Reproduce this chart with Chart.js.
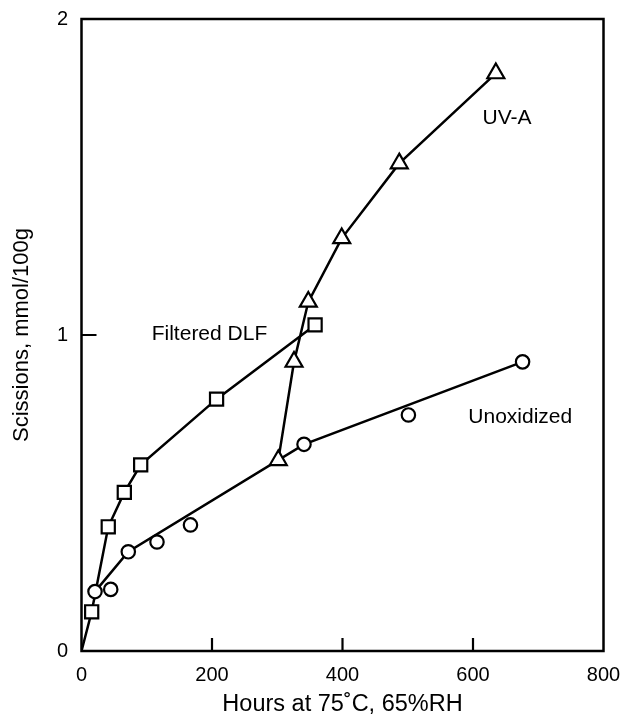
<!DOCTYPE html>
<html>
<head>
<meta charset="utf-8">
<script src="https://cdn.jsdelivr.net/npm/chart.js@4.4.1/dist/chart.umd.min.js"></script>
<style>
  html, body { margin: 0; padding: 0; background: #ffffff; }
  #wrap { width: 623px; height: 721px; }
</style>
</head>
<body>
<div id="wrap"><canvas id="chart" width="623" height="721"></canvas></div>
<script>
// Filtered DLF exposure (squares); the series starts at the origin
const hoursFiltered     = [0, 15.6, 41.0, 65.6, 90.7, 207, 358];
const scissionsFiltered = [0, 0.124, 0.393, 0.502, 0.589, 0.797, 1.032];

// Unoxidized samples (circles)
const hoursUnox     = [20.7, 44.8, 71.7, 115.7, 167, 341, 501, 676];
const scissionsUnox = [0.188, 0.195, 0.314, 0.345, 0.399, 0.654, 0.747, 0.915];

// Hand-drawn trend through the unoxidized data
const hoursUnoxTrend     = [20.7, 71.7, 341, 676];
const scissionsUnoxTrend = [0.188, 0.314, 0.654, 0.915];

// UV-A exposure (triangles)
const hoursUVA     = [301.6, 325.7, 347.6, 398.8, 487, 635];
const scissionsUVA = [0.604, 0.915, 1.105, 1.306, 1.543, 1.828];

// Axis ticks
const xTickValues = [0, 200, 400, 600, 800];
const yTickValues = [0, 1, 2];

// Curve labels, anchored at their left edge / vertical middle
const curveLabels = [
  { text: 'Filtered DLF', hours: 107.6, scissions: 1.003 },
  { text: 'UV-A',         hours: 614.6, scissions: 1.687 },
  { text: 'Unoxidized',   hours: 592.8, scissions: 0.741 }
];

const FONT = '"Liberation Sans", Arial, Helvetica, sans-serif';
const INK = '#000000';

const toPoints = (xs, ys) => xs.map((x, i) => ({ x: x, y: ys[i] }));

// Box around the plot plus inward-pointing tick marks and curve names
const framePlugin = {
  id: 'frame',
  afterDatasetsDraw(chart) {
    const { ctx, chartArea: a, scales } = chart;
    ctx.save();
    ctx.strokeStyle = INK;
    ctx.lineWidth = 2.5;
    ctx.lineCap = 'butt';
    ctx.strokeRect(a.left, a.top, a.right - a.left, a.bottom - a.top);
    ctx.lineWidth = 2.2;
    ctx.beginPath();
    xTickValues.slice(1, -1).forEach(v => {
      const px = scales.x.getPixelForValue(v);
      ctx.moveTo(px, a.bottom);
      ctx.lineTo(px, a.bottom - 13);
    });
    yTickValues.slice(1, -1).forEach(v => {
      const py = scales.y.getPixelForValue(v);
      ctx.moveTo(a.left, py);
      ctx.lineTo(a.left + 15, py);
    });
    ctx.stroke();

    ctx.fillStyle = INK;
    ctx.font = '21px ' + FONT;
    ctx.textAlign = 'left';
    ctx.textBaseline = 'middle';
    curveLabels.forEach(l => {
      ctx.fillText(l.text, scales.x.getPixelForValue(l.hours), scales.y.getPixelForValue(l.scissions));
    });
    ctx.restore();
  }
};

const markerBase = {
  borderColor: INK,
  backgroundColor: '#ffffff',
  pointBorderColor: INK,
  pointBackgroundColor: '#ffffff',
  pointBorderWidth: 2.2,
  borderWidth: 2.5,
  tension: 0
};

new Chart(document.getElementById('chart'), {
  type: 'scatter',
  data: {
    datasets: [
      Object.assign({}, markerBase, {
        label: 'Filtered DLF',
        data: toPoints(hoursFiltered, scissionsFiltered),
        showLine: true,
        pointStyle: 'rect',
        pointRadius: ctx => (ctx.dataIndex === 0 ? 0 : 9.3),
        order: 2
      }),
      Object.assign({}, markerBase, {
        label: 'UV-A',
        data: toPoints(hoursUVA, scissionsUVA),
        showLine: true,
        pointStyle: 'triangle',
        pointRadius: 9.8,
        order: 1
      }),
      Object.assign({}, markerBase, {
        label: 'Unoxidized',
        data: toPoints(hoursUnox, scissionsUnox),
        showLine: false,
        pointStyle: 'circle',
        pointRadius: 6.7,
        order: 0
      }),
      Object.assign({}, markerBase, {
        label: 'Unoxidized trend',
        data: toPoints(hoursUnoxTrend, scissionsUnoxTrend),
        showLine: true,
        pointRadius: 0,
        order: 5
      })
    ]
  },
  options: {
    responsive: false,
    devicePixelRatio: 1,
    animation: false,
    events: [],
    layout: { padding: { top: 19, right: 19.5, bottom: 0, left: 0 } },
    plugins: {
      legend: { display: false },
      tooltip: { enabled: false }
    },
    scales: {
      x: {
        type: 'linear',
        min: 0,
        max: 800,
        afterBuildTicks: s => { s.ticks = xTickValues.map(v => ({ value: v })); },
        ticks: { color: INK, font: { family: FONT, size: 20 }, padding: 12, maxRotation: 0 },
        grid: { display: false, drawTicks: false },
        border: { display: false },
        title: {
          display: true,
          text: 'Hours at 75˚C, 65%RH',
          color: INK,
          font: { family: FONT, size: 23.5 },
          padding: { top: 0, bottom: 2 }
        },
        afterFit: s => { s.height = 70; s.paddingLeft = 0; s.paddingRight = 0; }
      },
      y: {
        type: 'linear',
        min: 0,
        max: 2,
        afterBuildTicks: s => { s.ticks = yTickValues.map(v => ({ value: v })); },
        ticks: { color: INK, font: { family: FONT, size: 20 }, padding: 13.5 },
        grid: { display: false, drawTicks: false },
        border: { display: false },
        title: {
          display: true,
          text: 'Scissions, mmol/100g',
          color: INK,
          font: { family: FONT, size: 22 },
          padding: { top: 9, bottom: 0 }
        },
        afterFit: s => { s.width = 81.5; s.paddingTop = 0; s.paddingBottom = 0; }
      }
    }
  },
  plugins: [framePlugin]
});
</script>
</body>
</html>
